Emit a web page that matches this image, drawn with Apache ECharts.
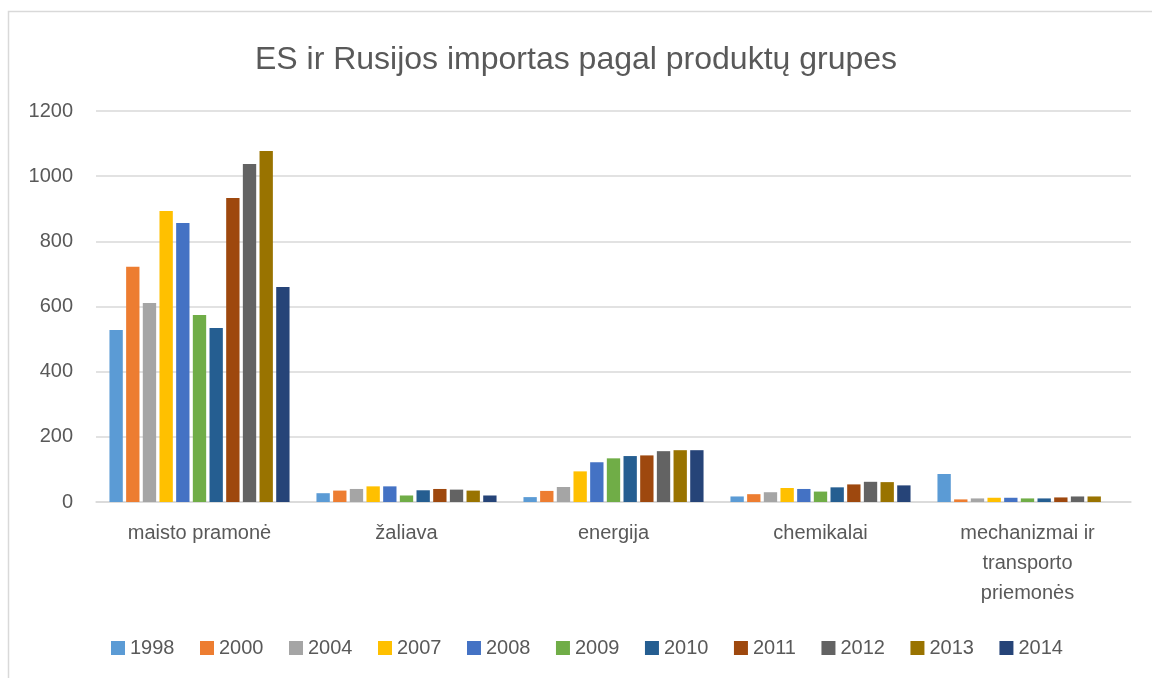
<!DOCTYPE html>
<html>
<head>
<meta charset="utf-8">
<script src="https://cdn.jsdelivr.net/npm/echarts@6/dist/echarts.min.js"></script>
<style>
html,body{margin:0;padding:0;background:#fff;}
#c{width:1152px;height:678px;}
</style>
</head>
<body>
<div id="c"></div>
<script>
const titleText = 'ES ir Rusijos importas pagal produktų grupes';
const categories = ['maisto pramonė', 'žaliava', 'energija', 'chemikalai', 'mechanizmai ir\ntransporto\npriemonės'];
const years = ['1998', '2000', '2004', '2007', '2008', '2009', '2010', '2011', '2012', '2013', '2014'];
const colors = ['#5B9BD5', '#ED7D31', '#A5A5A5', '#FFC000', '#4472C4', '#70AD47', '#255E91', '#9E480E', '#636363', '#997300', '#264478'];
const v1998 = [528, 27, 15, 17, 86];
const v2000 = [722, 35, 34, 24, 8];
const v2004 = [611, 40, 46, 30, 11];
const v2007 = [893, 48, 94, 43, 13];
const v2008 = [856, 48, 122, 40, 13];
const v2009 = [574, 20, 134, 32, 11];
const v2010 = [534, 36, 141, 45, 11];
const v2011 = [933, 40, 143, 54, 14];
const v2012 = [1037, 38, 156, 62, 17];
const v2013 = [1077, 35, 159, 61, 17];
const v2014 = [660, 20, 159, 51, null];
const yTicks = [0, 200, 400, 600, 800, 1000, 1200];

const values = [v1998, v2000, v2004, v2007, v2008, v2009, v2010, v2011, v2012, v2013, v2014];
const font = '"Liberation Sans", Arial, sans-serif';
const txt = '#595959';

const chart = echarts.init(document.getElementById('c'), null, {renderer: 'canvas'});
chart.setOption({
  animation: false,
  backgroundColor: '#fff',
  title: {
    text: titleText,
    left: 'center',
    top: 39,
    textStyle: {fontFamily: font, fontSize: 32, fontWeight: 'normal', color: txt}
  },
  graphic: [{
    type: 'rect',
    shape: {x: 8.5, y: 11.5, width: 1160, height: 700},
    style: {fill: 'none', stroke: '#d9d9d9', lineWidth: 1.5},
    silent: true
  }],
  legend: {
    data: years,
    left: 106,
    top: 633,
    itemWidth: 14,
    itemHeight: 14,
    itemGap: 25.5,
    icon: 'rect',
    textStyle: {fontFamily: font, fontSize: 20, color: txt}
  },
  grid: {left: 96, right: 21, top: 111, bottom: 176, containLabel: false},
  xAxis: {
    type: 'category',
    data: categories,
    axisLine: {show: true, lineStyle: {color: '#d9d9d9', width: 1.5}},
    axisTick: {show: false},
    axisLabel: {fontFamily: font, fontSize: 20, color: txt, margin: 16, lineHeight: 30, interval: 0}
  },
  yAxis: {
    type: 'value',
    min: yTicks[0],
    max: yTicks[yTicks.length - 1],
    interval: 200,
    axisLine: {show: false},
    axisTick: {show: false},
    splitLine: {lineStyle: {color: '#d9d9d9', width: 1.5}},
    axisLabel: {fontFamily: font, fontSize: 20, color: txt, margin: 23, formatter: (v) => String(v)}
  },
  series: years.map((y, i) => ({
    name: y,
    type: 'bar',
    data: values[i],
    itemStyle: {color: colors[i]},
    barGap: '25%',
    barCategoryGap: '13%'
  }))
});
</script>
</body>
</html>
